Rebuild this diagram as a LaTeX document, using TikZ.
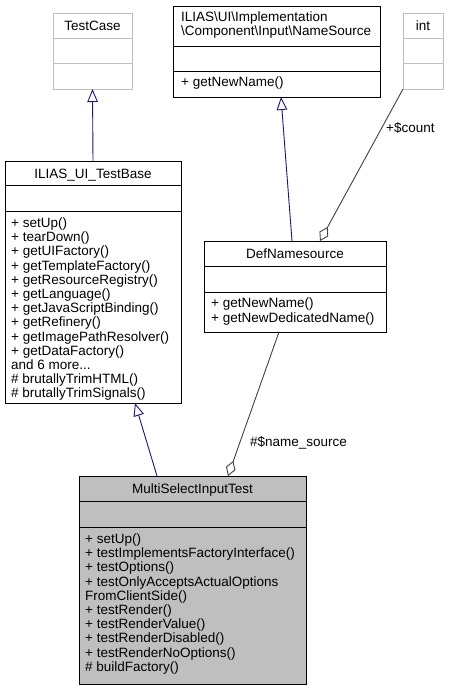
\documentclass[tikz,border=0pt]{standalone}
\usepackage{fontspec}
\setmainfont{Liberation Sans}
\usetikzlibrary{arrows.meta}
\definecolor{edgeblue}{HTML}{191970}
\definecolor{edgegray}{HTML}{404040}
\definecolor{boxgray}{HTML}{BFBFBF}
\definecolor{framegray}{HTML}{BFBFBF}
\begin{document}
\begin{tikzpicture}[x=1pt,y=-1pt,
  every node/.style={font=\fontsize{13.5}{14.2}\selectfont},
  umlbox/.style={draw=black, line width=1pt, anchor=north west, inner sep=0pt, outer sep=0pt},
  extbox/.style={draw=framegray, line width=1pt, anchor=north west, inner sep=0pt, outer sep=0pt},
  sepline/.style={line width=1pt},
  extsep/.style={line width=1pt, draw=framegray},
  title/.style={anchor=base, inner sep=0pt},
  members/.style={anchor=north west, align=left, inner sep=0pt},
  gen/.style={draw=edgeblue, line width=0.9pt, -{Triangle[open, length=13pt, width=10.5pt]}},
  agg/.style={draw=edgegray, line width=0.9pt, -{Diamond[open, length=16pt, width=10pt]}},
  elabel/.style={anchor=west, inner sep=0pt}
]
\useasboundingbox (0,0) rectangle (448,691);

% TestCase
\node[extbox, minimum width=79, minimum height=76] (tc) at (53,13) {};
\draw[extsep] (53,38) -- (132,38);
\draw[extsep] (53,63) -- (132,63);
\node[title] (tct) at (92.5,30) {TestCase};

% NameSource
\node[umlbox, minimum width=207, minimum height=91] (ns) at (173,6) {};
\draw[sepline] (173,46) -- (380,46);
\draw[sepline] (173,71) -- (380,71);
\node[members] (nst) at (181,11.5) {ILIAS\textbackslash UI\textbackslash Implementation\\\textbackslash Component\textbackslash Input\textbackslash NameSource};
\node[members] (nsm) at (181,77) {+ getNewName()};

% int
\node[extbox, minimum width=40, minimum height=76] (int) at (403,13) {};
\draw[extsep] (403,38) -- (443,38);
\draw[extsep] (403,63) -- (443,63);
\node[title] (intt) at (423,30) {int};

% ILIAS_UI_TestBase
\node[umlbox, minimum width=176, minimum height=242] (tb) at (5,161) {};
\draw[sepline] (5,185) -- (181,185);
\draw[sepline] (5,211) -- (181,211);
\node[title] (tbt) at (93,178) {ILIAS\_UI\_TestBase};
\node[members] (tbm) at (11,217.5) {+ setUp()\\+ tearDown()\\+ getUIFactory()\\+ getTemplateFactory()\\+ getResourceRegistry()\\+ getLanguage()\\+ getJavaScriptBinding()\\+ getRefinery()\\+ getImagePathResolver()\\+ getDataFactory()\\and 6 more...\\\# brutallyTrimHTML()\\\# brutallyTrimSignals()};

% DefNamesource
\node[umlbox, minimum width=182, minimum height=91] (dn) at (204,241) {};
\draw[sepline] (204,266) -- (386,266);
\draw[sepline] (204,292.5) -- (386,292.5);
\node[title] (dnt) at (295,258) {DefNamesource};
\node[members] (dnm) at (211,298) {+ getNewName()\\+ getNewDedicatedName()};

% MultiSelectInputTest
\node[umlbox, fill=boxgray, minimum width=227, minimum height=208] (ms) at (79,476) {};
\draw[sepline] (79,501) -- (306,501);
\draw[sepline] (79,527) -- (306,527);
\node[title] (mst) at (192.5,493) {MultiSelectInputTest};
\node[members] (msm) at (85,533.5) {+ setUp()\\+ testImplementsFactoryInterface()\\+ testOptions()\\+ testOnlyAcceptsActualOptions\\FromClientSide()\\+ testRender()\\+ testRenderValue()\\+ testRenderDisabled()\\+ testRenderNoOptions()\\\# buildFactory()};

% connectors
\draw[gen] (tb.north) -- (tc.south);
\draw[gen] ([xshift=88pt]dn.north west) -- ([xshift=108pt]ns.south west);
\draw[gen] ([xshift=78pt]ms.north west) -- ([xshift=130pt]tb.south west);
\draw[agg] (int.south west) -- ([xshift=116pt]dn.north west);
\draw[agg] ([xshift=75pt]dn.south west) -- ([xshift=149pt]ms.north west);

% labels
\node[elabel] (lcount) at (386,128) {+\$count};
\node[elabel] (lname) at (250,443) {\#\$name\_source};
\end{tikzpicture}
\end{document}
